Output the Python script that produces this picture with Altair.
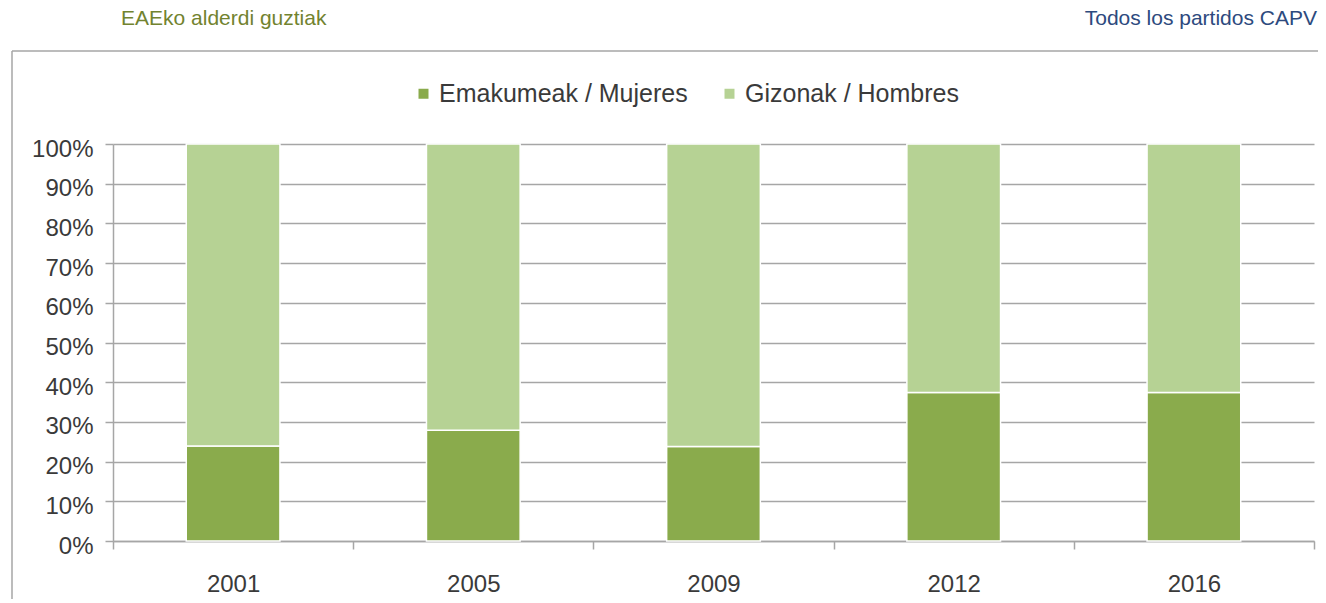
import altair as alt
import pandas as pd

years = ["2001", "2005", "2009", "2012", "2016"]
series_names = ["Emakumeak / Mujeres", "Gizonak / Hombres"]
women = [0.239, 0.279, 0.238, 0.374, 0.374]
men = [0.761, 0.721, 0.762, 0.626, 0.626]
series_colors = ["#8aab4c", "#b6d294"]
y_ticks = [0.0, 0.1, 0.2, 0.3, 0.4, 0.5, 0.6, 0.7, 0.8, 0.9, 1.0]
title_left = "EAEko alderdi guztiak"
title_right = "Todos los partidos CAPV"

rows = []
for i, yr in enumerate(years):
    rows.append({"year": yr, "series": series_names[0], "value": women[i], "ord": 0})
    rows.append({"year": yr, "series": series_names[1], "value": men[i], "ord": 1})
df = pd.DataFrame(rows)
one = pd.DataFrame({"a": [0]})

FONT = "Liberation Sans"
GRID = "#a6a6a6"
TEXT = "#3a3a3a"
W, H = 1201, 397

bars = alt.Chart(df).mark_bar(stroke="white", strokeWidth=1.5,
                              width=alt.RelativeBandSize(0.39)).encode(
    x=alt.X(
        "year:N", sort=years, title=None,
        scale=alt.Scale(paddingInner=0, paddingOuter=0),
        axis=alt.Axis(labelAngle=0, tickBand="extent", ticks=True, tickSize=8,
                      tickColor=GRID, tickWidth=1.5, domainColor=GRID, domainWidth=1.5,
                      labelFontSize=24, labelPadding=23, labelColor=TEXT, grid=False),
    ),
    y=alt.Y(
        "value:Q", stack="zero", title=None,
        scale=alt.Scale(domain=[0, 1], nice=False),
        axis=alt.Axis(values=y_ticks, format=".0%", grid=True, gridColor=GRID, gridWidth=1.5,
                      tickSize=8, tickColor=GRID, tickWidth=1.5, domainColor=GRID, domainWidth=1.5,
                      labelFontSize=24, labelPadding=12, labelOffset=5, labelColor=TEXT),
    ),
    color=alt.Color(
        "series:N",
        scale=alt.Scale(domain=series_names, range=series_colors),
        legend=alt.Legend(orient="none", legendX=298, legendY=-63, direction="horizontal",
                          title=None, symbolType="square", symbolSize=100, symbolStrokeWidth=0,
                          labelFontSize=25, labelOffset=3, columnPadding=29, labelColor=TEXT,
                          labelFont=FONT, labelLimit=500),
    ),
    order=alt.Order("ord:Q"),
)

frame_left = alt.Chart(one).mark_rule(color=GRID, strokeWidth=1.5).encode(
    x=alt.value(-101), y=alt.value(-93), y2=alt.value(H + 80)
)
frame_top = alt.Chart(one).mark_rule(color=GRID, strokeWidth=1.5).encode(
    x=alt.value(-101), x2=alt.value(W + 30), y=alt.value(-93)
)
t_left = alt.Chart(one).mark_text(align="left", baseline="alphabetic", fontSize=21,
                                  color="#72832f", font=FONT).encode(
    x=alt.value(8), y=alt.value(-119), text=alt.value(title_left)
)
t_right = alt.Chart(one).mark_text(align="right", baseline="alphabetic", fontSize=21,
                                   color="#2d4a7e", font=FONT).encode(
    x=alt.value(1204), y=alt.value(-119), text=alt.value(title_right)
)

chart = alt.layer(frame_left, frame_top, t_left, t_right, bars).properties(
    width=W, height=H,
    autosize=alt.AutoSizeParams(type="none"),
    padding={"left": 105, "top": 136, "right": 4, "bottom": 58},
).configure(font=FONT).configure_view(stroke=None)

chart.save("out.html", embed_options={"renderer": "svg", "actions": False})
